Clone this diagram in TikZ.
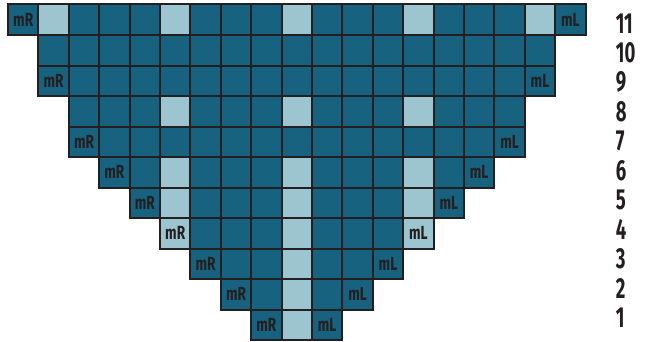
\documentclass[tikz,border=0pt]{standalone}
\usepackage{fontspec}
\usetikzlibrary{positioning,calc}
\newfontfamily\chartfont{Fira Sans}[FakeStretch=0.72]
\newfontfamily\numfont{Fira Sans}[FakeStretch=0.64]
\definecolor{stitchdark}{HTML}{17637F}
\definecolor{stitchlight}{HTML}{9DC5CF}
\definecolor{gridink}{HTML}{231F20}
\tikzset{
  cellline/.style={draw=gridink,line width=2pt},
  inclabel/.style={inner sep=0pt,text=gridink,font=\chartfont\bfseries\fontsize{19}{19}\selectfont},
  rownum/.style={anchor=west,inner sep=0pt,text=gridink,font=\numfont\bfseries\fontsize{29}{29}\selectfont}
}

\begin{document}
\begin{tikzpicture}[x=30.4pt,y=30.5pt,shift={(8pt,1pt)}]
\useasboundingbox (-8pt,-1pt) rectangle (637pt,340pt);
% rows: row/left column (right column = 18 - left)
\foreach \r/\l in {1/8,2/7,3/6,4/5,5/4,6/3,7/2,8/2,9/1,10/1,11/0}{
  \pgfmathtruncatemacro\rc{18-\l}
  \foreach \c in {\l,...,\rc}
    \fill[stitchdark] (\c,\r-1) rectangle +(1,1);
}
% light stitches
\foreach \c/\r in {9/1,9/2,9/3,9/4,9/5,9/6,5/4,5/5,5/6,13/4,13/5,13/6,
                   5/8,9/8,13/8,1/11,5/11,9/11,13/11,17/11}
  \fill[stitchlight] (\c,\r-1) rectangle +(1,1);
% grid
\foreach \r/\l in {1/8,2/7,3/6,4/5,5/4,6/3,7/2,8/2,9/1,10/1,11/0}{
  \pgfmathtruncatemacro\rc{18-\l}
  \foreach \c in {\l,...,\rc}
    \draw[cellline] (\c,\r-1) rectangle +(1,1);
}
% increases
\foreach \r/\l in {1/8,2/7,3/6,4/5,5/4,6/3,7/2,9/1,11/0}{
  \pgfmathtruncatemacro\rc{18-\l}
  \node[inclabel] (mR\r) at (\l+0.5,\r-0.5) {mR};
  \node[inclabel] (mL\r) at (\rc+0.5,\r-0.5) {mL};
}
% row numbers
\foreach \r in {1,...,11}
  \node[rownum] (row\r) at (19.99,{(22.5+(\r-1)*29.4)/30.5}) {\r};
\end{tikzpicture}
\end{document}
